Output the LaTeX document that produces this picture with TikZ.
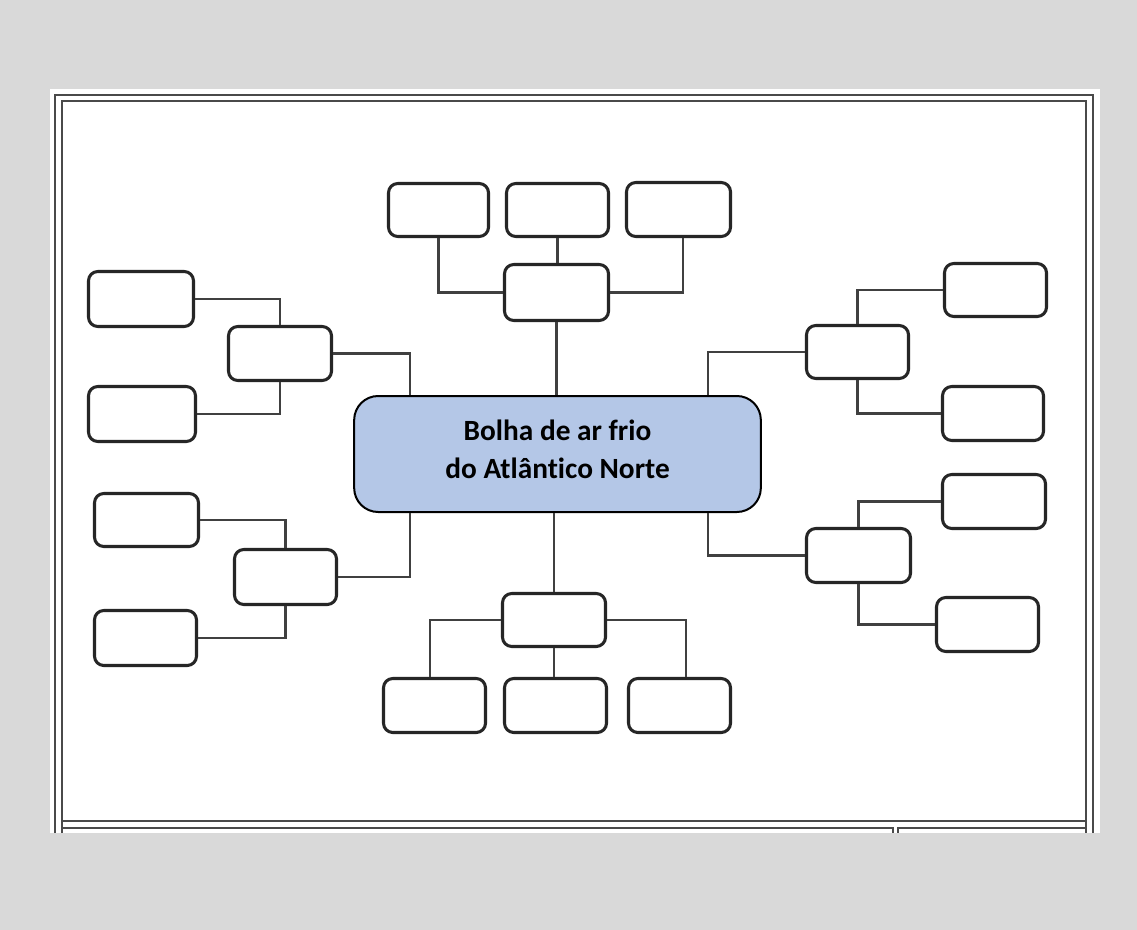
\documentclass[tikz,border=0pt]{standalone}
\usepackage{fontspec}
\setmainfont{Carlito}[Ligatures=NoCommon]
\definecolor{bgc}{HTML}{D9D9D9}
\definecolor{boxc}{HTML}{262626}
\definecolor{connc}{HTML}{404040}
\definecolor{frmc}{HTML}{4A4A4A}
\definecolor{cfill}{HTML}{B4C7E7}
\newcommand{\bx}[5]{\node[sbox, minimum width={(#4-#2-3)*0.75pt}, minimum height={(#5-#3-3)*0.75pt}] (#1) at ({(#2+#4)/2},{(#3+#5)/2}) {};}
\begin{document}
\begin{tikzpicture}[x=0.75pt,y=-0.75pt,
  sbox/.style={draw=boxc, line width=2.3pt, rounded corners=7pt, fill=white, inner sep=0pt},
  central/.style={draw=black, line width=1.5pt, rounded corners=18pt, fill=cfill, inner sep=0pt,
    minimum width=305pt, minimum height=87pt},
  ctext/.style={align=center, inner sep=0pt, font=\bfseries\fontsize{22}{28.5}\selectfont},
  conn/.style={draw=connc, line width=2.1pt},
  frm/.style={draw=frmc, line width=2.1pt}]
\fill[bgc] (0,0) rectangle (1137,930);
\useasboundingbox (0,0) rectangle (1137,930);
\fill[white] (50,89) rectangle (1100,833);
\draw[frm] (55,833) -- (55,95) -- (1093,95) -- (1093,833);
\draw[frm] (62,833) -- (62,101) -- (1086,101) -- (1086,833);
\draw[frm] (62,821) -- (1086,821);
\draw[frm] (62,828) -- (893,828) -- (893,833);
\draw[frm] (1086,828) -- (898,828) -- (898,833);
% central node
\node[central] (C) at (557.5,454) {};
\node[ctext] (Ct) at (557.5,449) {Bolha de ar frio\\do Atlântico Norte};
% boxes
\bx{T1}{387}{182}{490}{238}
\bx{T2}{505}{182}{610}{238}
\bx{T3}{625}{181}{732}{238}
\bx{TH}{503}{263}{610}{322}
\bx{L1}{87}{270}{195}{328}
\bx{L2}{227}{325}{333}{382}
\bx{L3}{87}{385}{197}{443}
\bx{L4}{93}{492}{200}{548}
\bx{L5}{233}{548}{338}{606}
\bx{L6}{93}{609}{198}{667}
\bx{R1}{943}{262}{1048}{318}
\bx{R2}{805}{324}{910}{380}
\bx{R3}{941}{385}{1045}{442}
\bx{R4}{941}{473}{1047}{530}
\bx{R5}{805}{527}{912}{584}
\bx{R6}{935}{596}{1040}{653}
\bx{BH}{501}{592}{607}{648}
\bx{B1}{382}{677}{487}{734}
\bx{B2}{503}{677}{608}{734}
\bx{B3}{627}{677}{732}{734}
% column coordinates
\coordinate (xa) at (410,0);
\coordinate (xb) at (708,0);
\coordinate (xt3) at (683,0);
\coordinate (xb1) at (430,0);
\coordinate (xb3) at (686,0);
% connectors top
\draw[conn] (T1.south) |- (TH.west);
\draw[conn] (T2.south) -- (T2.south |- TH.north);
\draw[conn] (T3.south -| xt3) |- (TH.east);
\draw[conn] (TH.south) -- (TH.south |- C.north);
% left
\draw[conn] (L1.east) -| (L2.north);
\draw[conn] (L3.east) -| (L2.south);
\draw[conn] (L2.east) -| (C.north -| xa);
\draw[conn] (L4.east) -| (L5.north);
\draw[conn] (L6.east) -| (L5.south);
\draw[conn] (L5.east) -| (C.south -| xa);
% right
\draw[conn] (R1.west) -| (R2.north);
\draw[conn] (R3.west) -| (R2.south);
\draw[conn] (R2.west) -| (C.north -| xb);
\draw[conn] (R4.west) -| (R5.north);
\draw[conn] (R6.west) -| (R5.south);
\draw[conn] (R5.west) -| (C.south -| xb);
% bottom
\draw[conn] (BH.north |- C.south) -- (BH.north);
\draw[conn] (BH.west) -| (B1.north -| xb1);
\draw[conn] (BH.south) -- (BH.south |- B2.north);
\draw[conn] (BH.east) -| (B3.north -| xb3);
\end{tikzpicture}
\end{document}
